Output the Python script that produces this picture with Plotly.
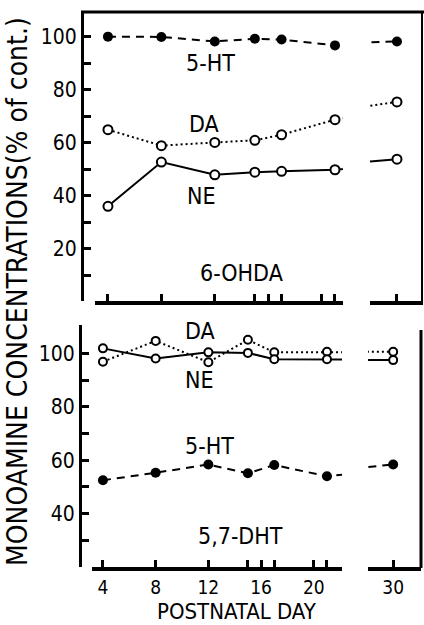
import plotly.graph_objects as go

# ---------------- data ----------------
days = [4, 8, 12, 15, 17, 21, 30]

ohda_5ht = [100.0, 99.9, 98.2, 99.2, 98.9, 96.7, 98.2]
ohda_da = [64.9, 58.9, 60.1, 60.9, 63.0, 68.7, 75.4]
ohda_ne = [36.0, 52.7, 47.9, 48.9, 49.2, 49.8, 53.8]

dht_5ht = [52.5, 55.3, 58.4, 55.1, 58.2, 54.0, 58.4]
dht_da = [96.9, 104.7, 96.7, 105.1, 100.4, 100.6, 100.6]
dht_ne = [101.9, 98.1, 100.4, 100.2, 97.8, 97.8, 97.5]

x_ticks_left = [4, 8, 12, 15, 16, 17, 20, 21]
x_ticklabels_left = ["4", "8", "12", "", "16", "", "20", ""]
x_ticks_right = [30]
x_ticklabels_right = ["30"]

y_ticks_top = [10, 20, 30, 40, 50, 60, 70, 80, 90, 100]
y_ticks_bot = [30, 40, 50, 60, 70, 80, 90, 100]

W, H = 424, 625
FONT = "DejaVu Sans Condensed, Liberation Sans Narrow, DejaVu Sans"


def px(x):
    return x / W


def py(y):
    return 1 - y / H


def lbl(v):
    return str(v) if v % 20 == 0 else ""


fig = go.Figure()


def add_series(xa, ya, ht, da, ne, osize):
    fig.add_trace(go.Scatter(x=days, y=ht, xaxis=xa, yaxis=ya, mode="lines+markers",
                             line=dict(color="black", width=2, dash="8px,6px"),
                             marker=dict(color="black", size=10)))
    fig.add_trace(go.Scatter(x=days, y=da, xaxis=xa, yaxis=ya, mode="lines+markers",
                             line=dict(color="black", width=2, dash="2px,3px"),
                             marker=dict(color="white", size=osize,
                                         line=dict(color="black", width=2))))
    fig.add_trace(go.Scatter(x=days, y=ne, xaxis=xa, yaxis=ya, mode="lines+markers",
                             line=dict(color="black", width=2),
                             marker=dict(color="white", size=osize,
                                         line=dict(color="black", width=2))))


add_series("x", "y", ohda_5ht, ohda_da, ohda_ne, 9)
add_series("x2", "y", ohda_5ht, ohda_da, ohda_ne, 9)
add_series("x3", "y2", dht_5ht, dht_da, dht_ne, 8)
add_series("x4", "y2", dht_5ht, dht_da, dht_ne, 8)

tickfont = dict(family=FONT, size=19, color="black")

xcommon = dict(showline=True, linecolor="black", linewidth=3.5, ticks="inside",
               ticklen=7, tickwidth=2.5, tickcolor="black", showgrid=False,
               zeroline=False, tickfont=tickfont, ticklabelstandoff=0)

ycommon = dict(showline=True, linecolor="black", linewidth=3, ticks="inside",
               ticklen=7, tickwidth=2.5, tickcolor="black", showgrid=False,
               zeroline=False, tickfont=dict(family=FONT, size=21, color="black"),
               anchor="free", ticklabelstandoff=0)

fig.update_layout(
    width=W, height=H,
    margin=dict(l=0, r=0, t=0, b=0),
    paper_bgcolor="white", plot_bgcolor="white",
    showlegend=False,
    xaxis=dict(domain=[px(95), px(343)], range=[3.03, 21.6], anchor="y",
               tickvals=x_ticks_left, showticklabels=False, **xcommon),
    xaxis2=dict(domain=[px(370), px(423)], range=[27.98, 31.95], anchor="y",
                tickvals=x_ticks_right, showticklabels=False, **xcommon),
    xaxis3=dict(domain=[px(92), px(342)], range=[3.17, 22.14], anchor="y2",
                tickvals=x_ticks_left, ticktext=x_ticklabels_left, **xcommon),
    xaxis4=dict(domain=[px(368), px(421)], range=[28.1, 32.1], anchor="y2",
                tickvals=x_ticks_right, ticktext=x_ticklabels_right, **xcommon),
    yaxis=dict(domain=[py(301), py(12)], range=[0.3, 109.3], position=px(82),
               tickvals=y_ticks_top, ticktext=[lbl(v) for v in y_ticks_top], **ycommon),
    yaxis2=dict(domain=[py(567), py(325.4)], range=[20, 110.5], position=px(80),
                tickvals=y_ticks_bot, ticktext=[lbl(v) for v in y_ticks_bot], **ycommon),
)

# frame lines
fig.add_shape(type="line", xref="paper", yref="paper", x0=px(81), x1=1.0,
              y0=py(12), y1=py(12), line=dict(color="black", width=3))
fig.add_shape(type="line", xref="paper", yref="paper", x0=px(422), x1=px(422),
              y0=py(12), y1=py(301), line=dict(color="black", width=2))
fig.add_shape(type="line", xref="paper", yref="paper", x0=px(421), x1=px(421),
              y0=py(330), y1=py(568), line=dict(color="black", width=3))

afont = dict(family=FONT, size=23, color="black")
labels = [
    ("x", "y", 11.7, 90.2, "5-HT"),
    ("x", "y", 11.2, 67.2, "DA"),
    ("x", "y", 11.0, 40.0, "NE"),
    ("x", "y", 14.0, 10.9, "6-OHDA"),
    ("x3", "y2", 11.4, 108.4, "DA"),
    ("x3", "y2", 11.36, 90.0, "NE"),
    ("x3", "y2", 12.1, 65.3, "5-HT"),
    ("x3", "y2", 14.4, 31.6, "5,7-DHT"),
]
for xr, yr, xv, yv, t in labels:
    fig.add_annotation(xref=xr, yref=yr, x=xv, y=yv, text=t, showarrow=False,
                       xanchor="center", yanchor="middle", font=afont)

fig.add_annotation(xref="paper", yref="paper", x=px(237), y=0,
                   text="POSTNATAL DAY", showarrow=False, borderpad=0,
                   xanchor="center", yanchor="bottom",
                   font=dict(family=FONT, size=22, color="black"))
fig.add_annotation(xref="paper", yref="paper", x=px(17), y=py(292),
                   text="MONOAMINE CONCENTRATIONS(% of cont.)", textangle=-90,
                   xanchor="center", yanchor="middle",
                   showarrow=False, font=dict(family=FONT, size=28, color="black"))

fig.write_html("out.html", config={"displayModeBar": False},
               post_script="document.body.style.margin='0px';document.body.style.overflow='hidden';")
